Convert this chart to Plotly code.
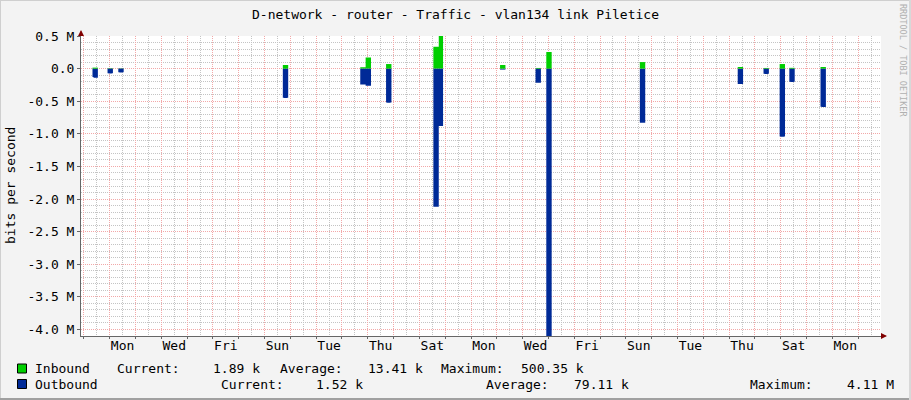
import plotly.graph_objects as go
from datetime import datetime, timedelta

# ---------------- data ----------------
# start of each burst of measured data (hourly samples), values in kbit/s
spike_start = [
    "2023-12-31 08:00", "2023-12-31 22:00", "2024-01-01 08:00", "2024-01-07 17:00",
    "2024-01-10 17:00", "2024-01-11 17:00", "2024-01-13 13:00", "2024-01-16 03:00",
    "2024-01-17 12:00", "2024-01-17 22:00", "2024-01-21 13:00", "2024-01-25 08:00",
    "2024-01-26 08:00", "2024-01-26 23:00", "2024-01-27 08:00", "2024-01-28 13:00",
]
inbound_k = [
    [15, 15, 15, 15, 15],
    [5, 5, 5, 5, 5],
    [3, 3, 3, 3, 3],
    [55, 55, 55, 55, 55],
    [20, 20, 20, 20, 20, 170, 170, 170, 170, 170],
    [70, 70, 70, 70, 70],
    [335, 335, 335, 335, 335, 500.35, 500.35, 500.35, 500.35],
    [55, 55, 55, 55, 55],
    [10, 10, 10, 10, 10],
    [255, 255, 255, 255, 255],
    [100, 100, 100, 100, 100],
    [25, 25, 25, 25, 25],
    [10, 10, 10, 10, 10],
    [70, 70, 70, 70, 70],
    [12, 12, 12, 12, 12],
    [25, 25, 25, 25, 25],
]
outbound_k = [
    [-130, -140, -140, -140, -140],
    [-70, -75, -75, -75, -70],
    [-55, -60, -60, -60, -55],
    [-445, -450, -450, -450, -445],
    [-245, -245, -245, -245, -245, -262, -262, -262, -262, -262],
    [-520, -523, -523, -523, -520],
    [-2120, -2120, -2120, -2120, -2120, -880, -880, -880, -880],
    [-15, -15, -15, -15, -15],
    [-215, -216, -216, -216, -215],
    [-4110, -4110, -4110, -4110, -4110],
    [-830, -830, -830, -830, -830],
    [-236, -236, -236, -236, -236],
    [-80, -83, -83, -83, -80],
    [-1040, -1045, -1045, -1045, -1040],
    [-200, -205, -205, -205, -200],
    [-585, -590, -590, -590, -590],
]

day_labels = ["Mon", "Wed", "Fri", "Sun", "Tue", "Thu", "Sat", "Mon",
              "Wed", "Fri", "Sun", "Tue", "Thu", "Sat", "Mon"]
label_times = ["2024-01-%02d 12:00" % d for d in range(1, 30, 2)]

y_ticks = [0.5e6, 0.0, -0.5e6, -1.0e6, -1.5e6, -2.0e6, -2.5e6, -3.0e6, -3.5e6, -4.0e6]
y_labels = ["0.5 M", "0.0", "-0.5 M", "-1.0 M", "-1.5 M", "-2.0 M",
            "-2.5 M", "-3.0 M", "-3.5 M", "-4.0 M"]

x_range = ["2023-12-30 21:19", "2024-01-30 21:15"]
y_range = [-4.1e6, 0.5e6]

legend_rows = [
    ("Inbound", ["Current:", "1.89 k", "Average:", "13.41 k", "Maximum:", "500.35 k"]),
    ("Outbound", ["Current:", "1.52 k", "Average:", "79.11 k", "Maximum:", "4.11 M"]),
]

# ---------------- styles ----------------
GREEN = "#00CF00"
BLUE = "#002A97"
FONT = "DejaVu Sans Mono"
MAJOR = "#F2A8A8"
MINOR = "#C4C4C4"
L, R, T, B = 81, 30, 36, 64
W, H = 911, 400
PW, PH = W - L - R, H - T - B


def px(x):
    return (x - L) / PW


def py(y):
    return (H - B - y) / PH


def segment(start, vals):
    t0 = datetime.fromisoformat(start)
    xs = [t0 + timedelta(hours=i) for i in range(len(vals) + 1)]
    ys = [v * 1000 for v in vals] + [vals[-1] * 1000]
    return xs, ys


fig = go.Figure()
for series, col in ((outbound_k, BLUE), (inbound_k, GREEN)):
    for start, vals in zip(spike_start, series):
        xs, ys = segment(start, vals)
        fig.add_trace(go.Scatter(x=xs, y=ys, mode="lines", fill="tozeroy", fillcolor=col,
                                 line=dict(width=0, shape="hv", color=col),
                                 showlegend=False, hoverinfo="skip"))
# carrier trace for the label axis
fig.add_trace(go.Scatter(x=[label_times[0]], y=[None], xaxis="x2", mode="markers",
                         showlegend=False, hoverinfo="skip"))

minor_y = [i * 1e5 for i in range(-41, 6) if i % 5 != 0]

fig.update_layout(
    width=W, height=H,
    margin=dict(l=L, r=R, t=T, b=B, pad=0, autoexpand=False),
    paper_bgcolor="#F3F3F3", plot_bgcolor="#FFFFFF",
    font=dict(family=FONT, size=13, color="#000000"),
    xaxis=dict(type="date", range=x_range, showticklabels=False,
               tick0="2024-01-01", dtick=86400000,
               showgrid=True, gridcolor=MAJOR, griddash="1px,1px", gridwidth=1,
               ticks="outside", ticklen=2, tickcolor="#666666",
               showline=True, linecolor="#666666", linewidth=1, zeroline=False,
               minor=dict(tick0="2024-01-01 12:00", dtick=86400000, showgrid=True,
                          gridcolor=MINOR, griddash="1px,1px", gridwidth=1, ticks="")),
    xaxis2=dict(type="date", range=x_range, overlaying="x", anchor="y", side="bottom",
                tickmode="array", tickvals=label_times, ticktext=day_labels,
                showgrid=False, ticks="", showline=False, zeroline=False,
                tickfont=dict(family=FONT, size=13, color="#000000")),
    yaxis=dict(range=y_range, tickmode="array", tickvals=y_ticks, ticktext=y_labels,
               showgrid=True, gridcolor=MAJOR, griddash="1px,1px", gridwidth=1,
               zeroline=False, showline=True, linecolor="#666666", linewidth=1,
               ticks="outside", ticklen=3, tickcolor="#666666",
               tickfont=dict(family=FONT, size=13, color="#000000"),
               minor=dict(tickmode="array", tickvals=minor_y, showgrid=True,
                          gridcolor=MINOR, griddash="1px,1px", gridwidth=1, ticks="")),
)

ann = []
ann.append(dict(text="D-network - router - Traffic - vlan134 link Piletice",
                x=px(455), y=py(14), xref="paper", yref="paper", showarrow=False,
                xanchor="center", yanchor="middle", font=dict(family=FONT, size=13)))
ann.append(dict(text="bits per second", x=px(10), y=py(186), xref="paper", yref="paper",
                showarrow=False, textangle=-90, xanchor="center", yanchor="middle",
                font=dict(family=FONT, size=13)))
ann.append(dict(text="RRDTOOL / TOBI OETIKER", x=px(903), y=py(60), xref="paper",
                yref="paper", showarrow=False, textangle=90, xanchor="center",
                yanchor="middle", font=dict(family=FONT, size=8.5, color="#B0B0B0")))
# axis arrows
ann.append(dict(text="", x=px(81), y=py(30), xref="paper", yref="paper", showarrow=True,
                ax=0, ay=7, arrowhead=2, arrowsize=1, arrowwidth=1.2, arrowcolor="#800000"))
ann.append(dict(text="", x=px(887), y=py(336), xref="paper", yref="paper", showarrow=True,
                ax=-7, ay=0, arrowhead=2, arrowsize=1, arrowwidth=1.2, arrowcolor="#800000"))

# legend text
row_y = [368.5, 384]
row_x = [
    [116.3, 212.3, 279, 366.7, 440, 520],
    [219.7, 315, 485, 572.7, 749.3, 845.7],
]
for r, (name, parts) in enumerate(legend_rows):
    ann.append(dict(text=name, x=px(34.3), y=py(row_y[r]), xref="paper", yref="paper",
                    showarrow=False, xanchor="left", yanchor="middle", borderpad=0,
                    font=dict(family=FONT, size=13)))
    for xx, t in zip(row_x[r], parts):
        ann.append(dict(text=t, x=px(xx), y=py(row_y[r]), xref="paper", yref="paper",
                        showarrow=False, xanchor="left", yanchor="middle", borderpad=0,
                        font=dict(family=FONT, size=13)))
fig.update_layout(annotations=ann)

shapes = []
for r, col in enumerate([GREEN, BLUE]):
    cy = row_y[r]
    shapes.append(dict(type="rect", xref="paper", yref="paper",
                       x0=px(17.5), x1=px(26.5), y0=py(cy + 4.5), y1=py(cy - 4.5),
                       fillcolor=col, line=dict(color="#000000", width=1)))
# frame
shapes.append(dict(type="line", xref="paper", yref="paper", x0=px(0), x1=px(W), y0=py(0.5), y1=py(0.5),
                   line=dict(color="#CFCFCF", width=1)))
shapes.append(dict(type="line", xref="paper", yref="paper", x0=px(0.5), x1=px(0.5), y0=py(0), y1=py(H),
                   line=dict(color="#CFCFCF", width=1)))
shapes.append(dict(type="line", xref="paper", yref="paper", x0=px(0), x1=px(W), y0=py(H - 1), y1=py(H - 1),
                   line=dict(color="#A0A0A0", width=2)))
shapes.append(dict(type="line", xref="paper", yref="paper", x0=px(W - 1), x1=px(W - 1), y0=py(0), y1=py(H),
                   line=dict(color="#D8D8D8", width=2)))
fig.update_layout(shapes=shapes)

fig.write_html("out.html", config={"displayModeBar": False},
               post_script="document.body.style.margin='0';document.body.style.overflow='hidden';")
